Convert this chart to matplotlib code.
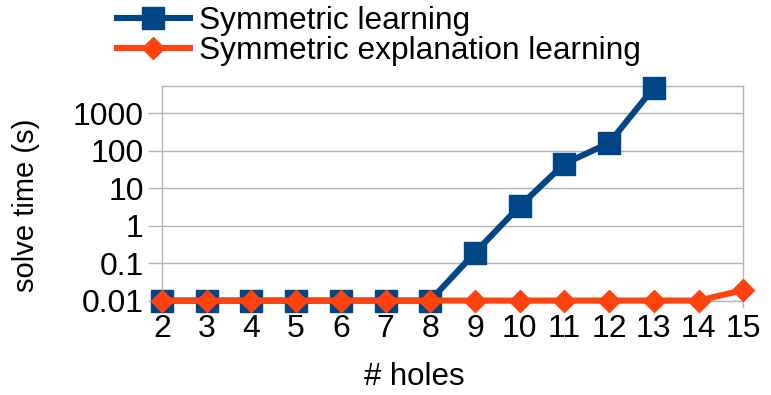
import matplotlib
matplotlib.use("Agg")
import matplotlib.pyplot as plt
from matplotlib.ticker import FixedLocator, NullLocator

plt.rcParams['font.family'] = ['Liberation Sans', 'DejaVu Sans']

holes = [2, 3, 4, 5, 6, 7, 8, 9, 10, 11, 12, 13, 14, 15]
sym_holes = [2, 3, 4, 5, 6, 7, 8, 9, 10, 11, 12, 13]
sym_learning = [0.01, 0.01, 0.01, 0.01, 0.01, 0.01, 0.01, 0.19, 3.3, 45, 160, 4800]
sym_expl_learning = [0.01, 0.01, 0.01, 0.01, 0.01, 0.01, 0.01, 0.01, 0.01, 0.01, 0.01, 0.01, 0.01, 0.019]
yticks = [0.01, 0.1, 1, 10, 100, 1000]
ytick_labels = ["0.01", "0.1", "1", "10", "100", "1000"]

blue = "#004586"
orange = "#ff420e"
grid = "#b3b3b3"

fig = plt.figure(figsize=(7.71, 3.95), dpi=100)
ax = fig.add_axes([0.210, 0.239, 0.754, 0.543])

ax.plot(sym_holes, sym_learning, color=blue, lw=4.4, marker='s', ms=15.5,
        label="Symmetric learning", clip_on=False, zorder=3)
ax.plot(holes, sym_expl_learning, color=orange, lw=4.4, marker='D', ms=11.5,
        label="Symmetric explanation learning", clip_on=False, zorder=4)

ax.set_yscale('log')
ax.set_ylim(0.01, 5300)
ax.set_xlim(2, 15)
ax.yaxis.set_major_locator(FixedLocator(yticks))
ax.set_yticklabels(ytick_labels)
ax.yaxis.set_minor_locator(NullLocator())
ax.set_xticks(holes)
ax.set_xticklabels([str(h) for h in holes])

ax.grid(axis='y', color=grid, lw=1)
ax.set_axisbelow(True)
for s in ax.spines.values():
    s.set_color(grid)
    s.set_linewidth(1)
ax.tick_params(axis='both', labelsize=23, colors=grid, labelcolor='black')
ax.tick_params(axis='y', length=10, width=1, pad=3)
ax.tick_params(axis='x', length=5, width=1, pad=5)

ax.set_xlabel("# holes", fontsize=22.5)
ax.xaxis.set_label_coords(0.435, -0.285)
ax.set_ylabel("solve time (s)", fontsize=21)
ax.yaxis.set_label_coords(-0.21, 0.444)

leg = fig.legend(loc='upper left', bbox_to_anchor=(0.135, 1.017), frameon=False,
                 fontsize=22.8, handlelength=2.3, handletextpad=0.3,
                 labelspacing=0.0, borderaxespad=0)

fig.savefig("out.png", dpi=100)
